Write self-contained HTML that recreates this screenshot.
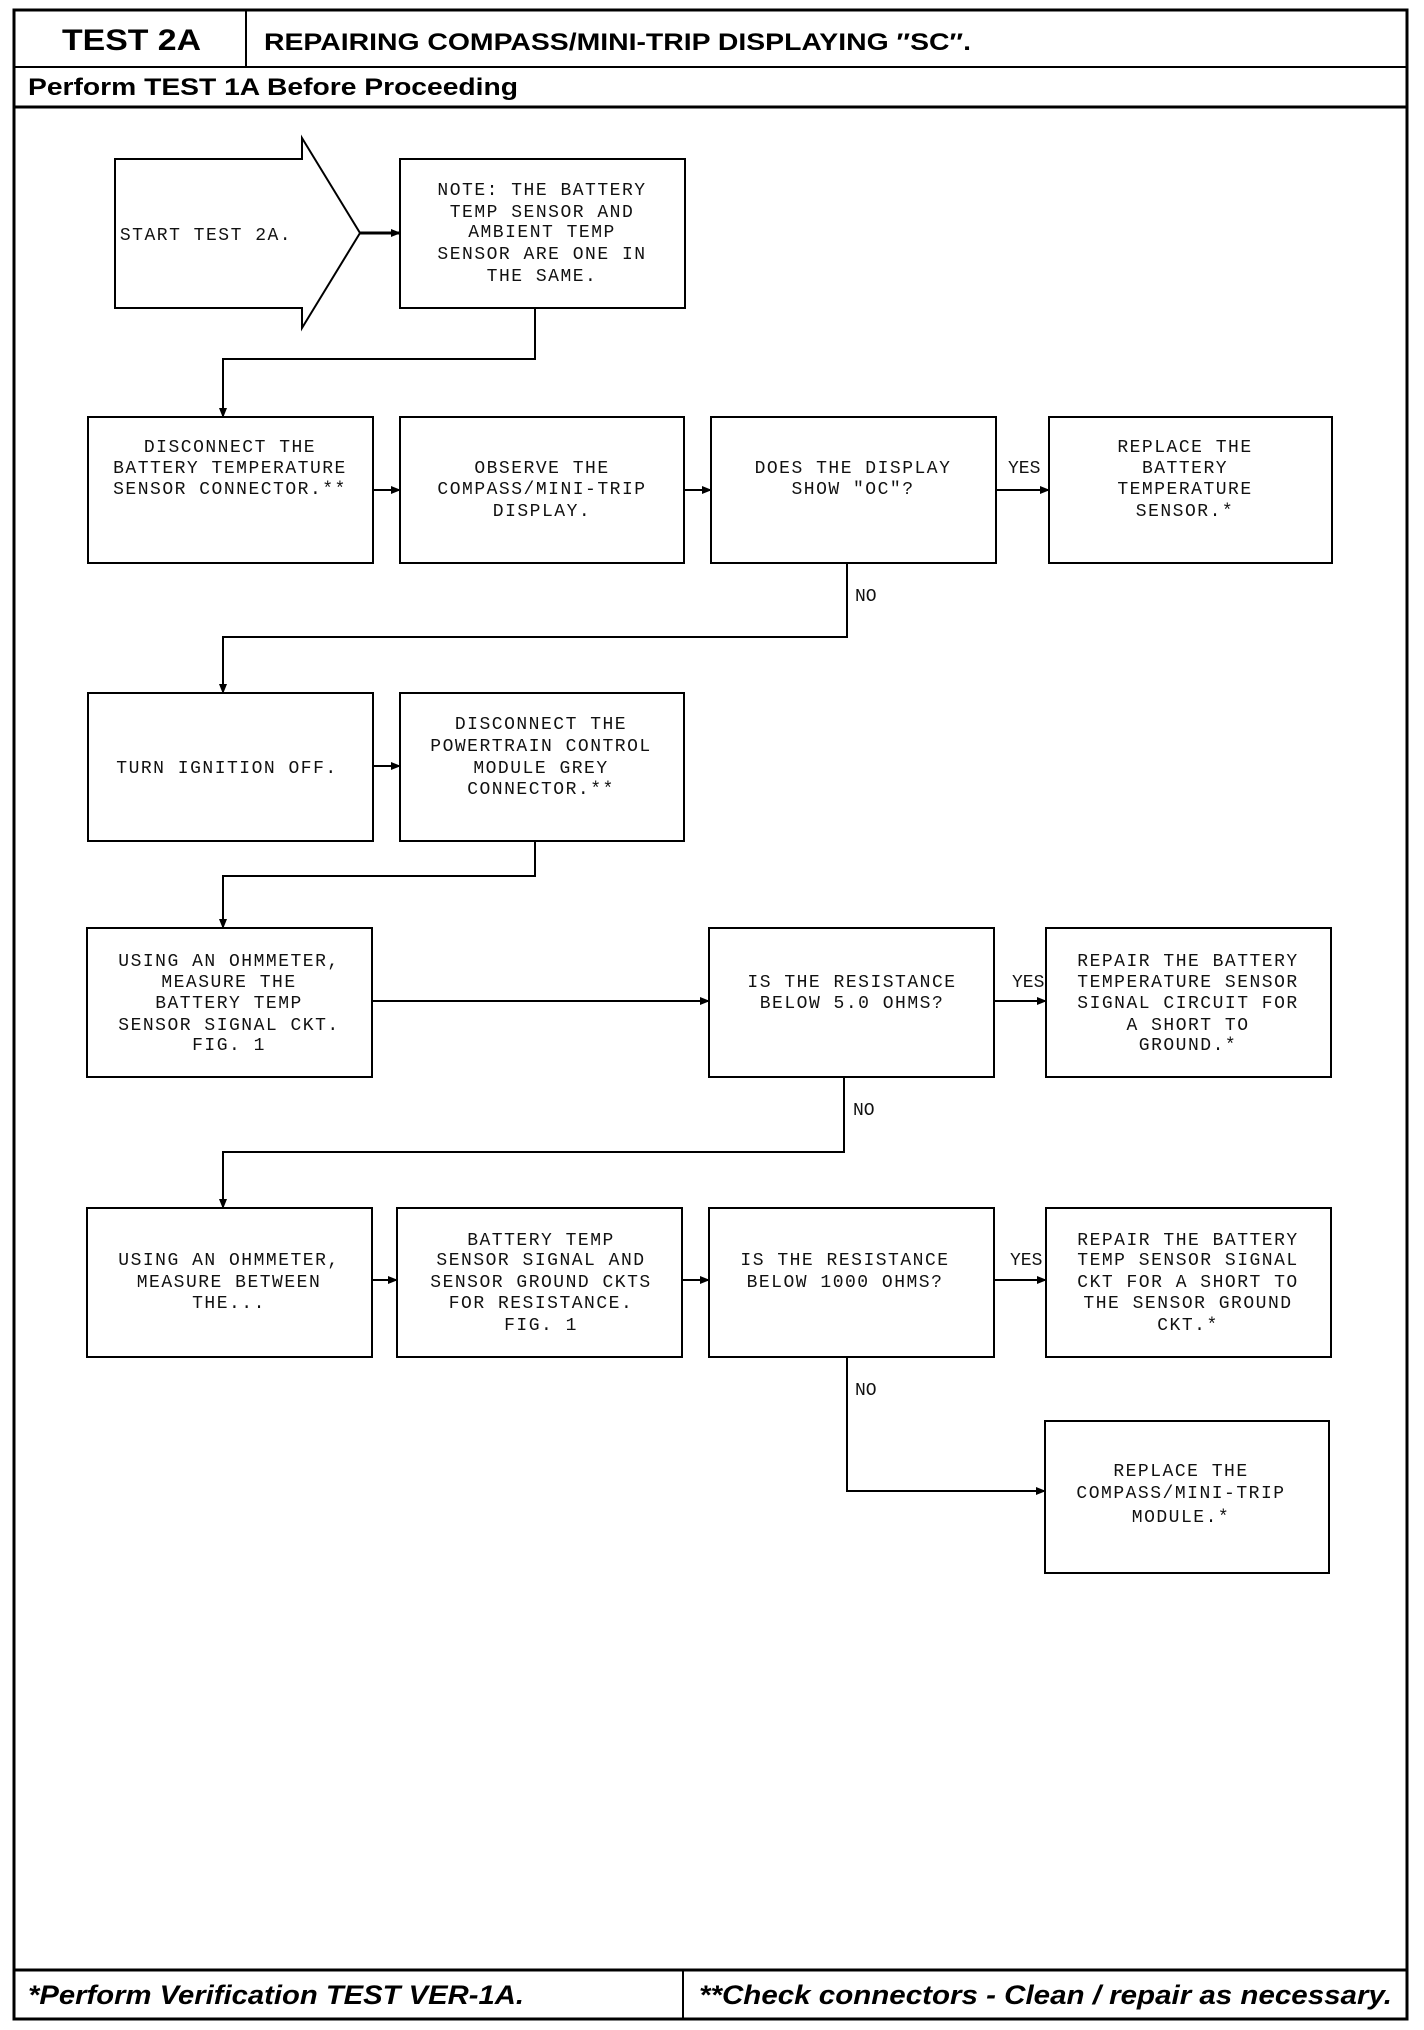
<!DOCTYPE html>
<html><head><meta charset="utf-8"><style>
html,body{margin:0;padding:0;background:#fff}
svg{display:block}
.t{font-family:"Liberation Mono","DejaVu Sans Mono",monospace;font-size:18px;letter-spacing:1.5px;text-anchor:middle;fill:#111}
.h{font-family:"Liberation Sans",sans-serif;font-weight:bold;fill:#000}
.l{font-family:"Liberation Mono",monospace;font-size:18px;fill:#111}
</style></head><body>
<svg width="1424" height="2030" viewBox="0 0 1424 2030" xmlns="http://www.w3.org/2000/svg">
<defs><marker id="a" markerWidth="10" markerHeight="10" refX="9" refY="5" orient="auto" markerUnits="userSpaceOnUse"><path d="M0,1 L10,5 L0,9 Z" fill="#000"/></marker></defs>
<g fill="none" stroke="#000">
<rect x="14" y="10" width="1393" height="2009" stroke-width="3"/>
<line x1="14" y1="67" x2="1407" y2="67" stroke-width="2"/>
<line x1="246" y1="10" x2="246" y2="67" stroke-width="2"/>
<line x1="14" y1="107" x2="1407" y2="107" stroke-width="3"/>
<line x1="14" y1="1970" x2="1407" y2="1970" stroke-width="3"/>
<line x1="683" y1="1970" x2="683" y2="2019" stroke-width="2"/>
</g>
<text class="h" x="62" y="50" font-size="30" textLength="139" lengthAdjust="spacingAndGlyphs">TEST 2A</text>
<text class="h" x="264" y="50" font-size="24" textLength="707" lengthAdjust="spacingAndGlyphs">REPAIRING COMPASS/MINI-TRIP DISPLAYING ″SC″.</text>
<text class="h" x="28" y="95" font-size="24" textLength="490" lengthAdjust="spacingAndGlyphs">Perform TEST 1A Before Proceeding</text>
<text class="h" x="28" y="2004" font-size="27" font-style="italic" textLength="496" lengthAdjust="spacingAndGlyphs">*Perform Verification TEST VER-1A.</text>
<text class="h" x="699" y="2004" font-size="27" font-style="italic" textLength="693" lengthAdjust="spacingAndGlyphs">**Check connectors - Clean / repair as necessary.</text>

<g fill="none" stroke="#000" stroke-width="2">
<path d="M115,159 L302,159 L302,138 L360,233 L302,328 L302,308 L115,308 Z"/>
<rect x="400" y="159" width="285" height="149"/>
<rect x="88" y="417" width="285" height="146"/>
<rect x="400" y="417" width="284" height="146"/>
<rect x="711" y="417" width="285" height="146"/>
<rect x="1049" y="417" width="283" height="146"/>
<rect x="88" y="693" width="285" height="148"/>
<rect x="400" y="693" width="284" height="148"/>
<rect x="87" y="928" width="285" height="149"/>
<rect x="709" y="928" width="285" height="149"/>
<rect x="1046" y="928" width="285" height="149"/>
<rect x="87" y="1208" width="285" height="149"/>
<rect x="397" y="1208" width="285" height="149"/>
<rect x="709" y="1208" width="285" height="149"/>
<rect x="1046" y="1208" width="285" height="149"/>
<rect x="1045" y="1421" width="284" height="152"/>
</g>
<g fill="none" stroke="#000" stroke-width="2" marker-end="url(#a)">
<line x1="360" y1="233" x2="400" y2="233" stroke-width="3"/>
<polyline points="535,308 535,359 223,359 223,417"/>
<line x1="373" y1="490" x2="400" y2="490"/>
<line x1="684" y1="490" x2="711" y2="490"/>
<line x1="996" y1="490" x2="1049" y2="490"/>
<polyline points="847,563 847,637 223,637 223,693"/>
<line x1="373" y1="766" x2="400" y2="766"/>
<polyline points="535,841 535,876 223,876 223,928"/>
<line x1="372" y1="1001" x2="709" y2="1001"/>
<line x1="994" y1="1001" x2="1046" y2="1001"/>
<polyline points="844,1077 844,1152 223,1152 223,1208"/>
<line x1="372" y1="1280" x2="397" y2="1280"/>
<line x1="682" y1="1280" x2="709" y2="1280"/>
<line x1="994" y1="1280" x2="1046" y2="1280"/>
<polyline points="847,1357 847,1491 1045,1491"/>
</g>

<text class="t" x="206" y="240">START TEST 2A.</text>
<text class="t" x="542"><tspan x="542" y="195">NOTE: THE BATTERY</tspan><tspan x="542" y="217">TEMP SENSOR AND</tspan><tspan x="542" y="237">AMBIENT TEMP</tspan><tspan x="542" y="259">SENSOR ARE ONE IN</tspan><tspan x="542" y="281">THE SAME.</tspan></text>
<text class="t"><tspan x="230" y="452">DISCONNECT THE</tspan><tspan x="230" y="473">BATTERY TEMPERATURE</tspan><tspan x="230" y="494">SENSOR CONNECTOR.**</tspan></text>
<text class="t"><tspan x="542" y="473">OBSERVE THE</tspan><tspan x="542" y="494">COMPASS/MINI-TRIP</tspan><tspan x="542" y="516">DISPLAY.</tspan></text>
<text class="t"><tspan x="853" y="473">DOES THE DISPLAY</tspan><tspan x="853" y="494">SHOW "OC"?</tspan></text>
<text class="l" x="1008" y="473">YES</text>
<text class="t"><tspan x="1185" y="452">REPLACE THE</tspan><tspan x="1185" y="473">BATTERY</tspan><tspan x="1185" y="494">TEMPERATURE</tspan><tspan x="1185" y="516">SENSOR.*</tspan></text>
<text class="l" x="855" y="601">NO</text>
<text class="t" x="227" y="773">TURN IGNITION OFF.</text>
<text class="t"><tspan x="541" y="729">DISCONNECT THE</tspan><tspan x="541" y="751">POWERTRAIN CONTROL</tspan><tspan x="541" y="773">MODULE GREY</tspan><tspan x="541" y="794">CONNECTOR.**</tspan></text>
<text class="t"><tspan x="229" y="966">USING AN OHMMETER,</tspan><tspan x="229" y="987">MEASURE THE</tspan><tspan x="229" y="1008">BATTERY TEMP</tspan><tspan x="229" y="1030">SENSOR SIGNAL CKT.</tspan><tspan x="229" y="1050">FIG. 1</tspan></text>
<text class="t"><tspan x="852" y="987">IS THE RESISTANCE</tspan><tspan x="852" y="1008">BELOW 5.0 OHMS?</tspan></text>
<text class="l" x="1012" y="987">YES</text>
<text class="t"><tspan x="1188" y="966">REPAIR THE BATTERY</tspan><tspan x="1188" y="987">TEMPERATURE SENSOR</tspan><tspan x="1188" y="1008">SIGNAL CIRCUIT FOR</tspan><tspan x="1188" y="1030">A SHORT TO</tspan><tspan x="1188" y="1050">GROUND.*</tspan></text>
<text class="l" x="853" y="1115">NO</text>
<text class="t"><tspan x="229" y="1265">USING AN OHMMETER,</tspan><tspan x="229" y="1287">MEASURE BETWEEN</tspan><tspan x="229" y="1308">THE...</tspan></text>
<text class="t"><tspan x="541" y="1245">BATTERY TEMP</tspan><tspan x="541" y="1265">SENSOR SIGNAL AND</tspan><tspan x="541" y="1287">SENSOR GROUND CKTS</tspan><tspan x="541" y="1308">FOR RESISTANCE.</tspan><tspan x="541" y="1330">FIG. 1</tspan></text>
<text class="t"><tspan x="845" y="1265">IS THE RESISTANCE</tspan><tspan x="845" y="1287">BELOW 1000 OHMS?</tspan></text>
<text class="l" x="1010" y="1265">YES</text>
<text class="t"><tspan x="1188" y="1245">REPAIR THE BATTERY</tspan><tspan x="1188" y="1265">TEMP SENSOR SIGNAL</tspan><tspan x="1188" y="1287">CKT FOR A SHORT TO</tspan><tspan x="1188" y="1308">THE SENSOR GROUND</tspan><tspan x="1188" y="1330">CKT.*</tspan></text>
<text class="l" x="855" y="1395">NO</text>
<text class="t"><tspan x="1181" y="1476">REPLACE THE</tspan><tspan x="1181" y="1498">COMPASS/MINI-TRIP</tspan><tspan x="1181" y="1522">MODULE.*</tspan></text>
</svg>
</body></html>
